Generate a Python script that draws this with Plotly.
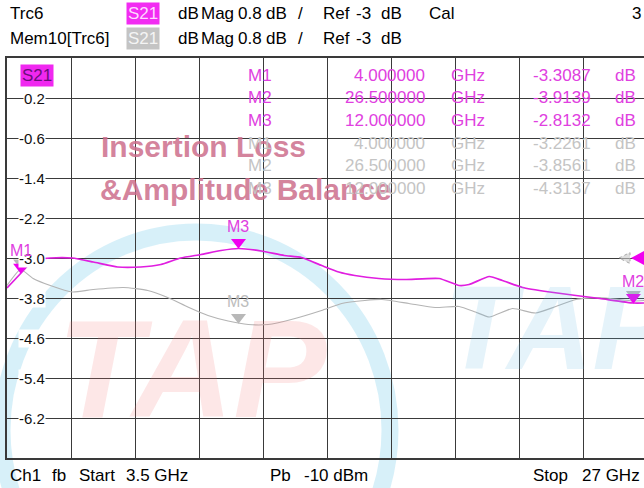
import plotly.graph_objects as go

# ---------------- data ----------------
start_ghz = 3.5
stop_ghz = 27.0
ref_db = -3.0
scale_db = 0.8
y_tick_labels = ["0.2", "-0.6", "-1.4", "-2.2", "-3.0", "-3.8", "-4.6", "-5.4", "-6.2"]

s21_freq = [3.5, 4.0, 4.46, 5.09, 5.9, 6.67, 7.56, 8.41, 9.15, 9.88, 10.62, 11.36, 12.0,
            12.84, 13.68, 14.31, 15.05, 15.68, 16.27, 17.15, 18.11, 19.37, 20.1, 20.47,
            21.21, 21.69, 22.43, 23.43, 24.39, 25.27, 26.5, 26.9]
s21_db = [-3.60, -3.31, -3.05, -3.0, -3.0, -3.08, -3.18, -3.18, -3.13, -3.0, -2.93, -2.85, -2.81,
          -2.86, -2.95, -2.99, -3.15, -3.28, -3.35, -3.41, -3.43, -3.41, -3.55, -3.53,
          -3.37, -3.45, -3.59, -3.68, -3.75, -3.81, -3.90, -3.90]

mem_freq = [3.5, 4.0, 4.46, 5.09, 5.9, 6.67, 7.78, 8.67, 9.4, 10.14, 10.88, 11.62, 12.36,
            13.09, 13.94, 15.05, 15.79, 16.64, 17.27, 18.26, 19.22, 20.1, 20.7, 21.21,
            22.06, 22.91, 23.65, 24.39, 25.27, 26.5, 26.9]
mem_db = [-3.55, -3.23, -3.41, -3.55, -3.68, -3.63, -3.59, -3.65, -3.79, -3.98, -4.15, -4.26, -4.33,
          -4.33, -4.23, -4.05, -3.91, -3.85, -3.83, -3.91, -3.99, -3.97, -4.08, -4.18,
          -4.01, -4.10, -3.97, -3.83, -3.79, -3.86, -3.85]

marker_names = ["M1", "M2", "M3"]
marker_freq = [4.0, 26.5, 12.0]
marker_freq_text = ["4.000000", "26.500000", "12.000000"]
marker_s21 = [-3.3087, -3.9139, -2.8132]
marker_mem = [-3.2261, -3.8561, -4.3137]
mem_label_shown = [False, False, True]

# ---------------- styling / geometry ----------------
W, H = 644, 488
L, R, T, B = 7, 644, 58, 458
DIV_PX = 64.0
MAG = "#e01ee0"
MAG_TXT = "#e040e0"
GRAY = "#b4b4b4"
GRAY_TXT = "#c4c4c4"
FONT = "Liberation Sans, Arial, sans-serif"
NARROW = "Liberation Sans Narrow, Arial Narrow, Liberation Sans, sans-serif"
GRID = "#3a3a3a"


def px(x):
    return (x - L) / (R - L)


def py(y):
    return (B - y) / (B - T)


x_end = start_ghz + (stop_ghz - start_ghz) * (R - L) / (10 * DIV_PX)
y_lo = ref_db - 5 * scale_db
y_hi = ref_db + 5 * scale_db
db_per_px = scale_db / 40.0

fig = go.Figure()

# memory trace
fig.add_trace(go.Scatter(x=mem_freq, y=mem_db, mode="lines",
                         line=dict(color=GRAY, width=1.2, shape="spline", smoothing=0.5),
                         hoverinfo="skip", showlegend=False))
# active trace
fig.add_trace(go.Scatter(x=s21_freq, y=s21_db, mode="lines",
                         line=dict(color=MAG, width=1.7, shape="spline", smoothing=0.5),
                         hoverinfo="skip", showlegend=False))

tri_size = 13
off = (tri_size / 2) * db_per_px
fig.add_trace(go.Scatter(x=marker_freq, y=[v + off for v in marker_mem], mode="markers",
                         marker=dict(symbol="triangle-down", size=tri_size, color="#b8b8b8",
                                     line=dict(width=0)),
                         cliponaxis=False, hoverinfo="skip", showlegend=False))
fig.add_trace(go.Scatter(x=marker_freq, y=[v + off for v in marker_s21], mode="markers",
                         marker=dict(symbol="triangle-down", size=tri_size, color="#f000f0",
                                     line=dict(width=0)),
                         cliponaxis=False, hoverinfo="skip", showlegend=False))

ann = []


def text(x, y, s, color="#000", size=17, xanchor="left", yanchor="middle", family=FONT,
         bg=None, **kw):
    d = dict(x=x, y=y, xref="paper", yref="paper", text=s, showarrow=False,
             xanchor=xanchor, yanchor=yanchor, font=dict(color=color, size=size, family=family))
    if bg:
        d["bgcolor"] = bg
    d.update(kw)
    ann.append(d)


# header
text(px(8), py(14), "Trc6")
text(px(126), py(14), "S21", color="#ffd8ff", bg="#f22cf2", borderpad=1)
text(px(8), py(39), "Mem10[Trc6]")
text(px(126), py(39), "S21", color="#f4f4f4", bg="#c4c4c4", borderpad=1)
for yy in (14, 39):
    for xx, s in [(176, "dB"), (199, "Mag"), (236, "0.8"), (264, "dB"), (296, "/"),
                  (321, "Ref"), (354, "-3"), (379, "dB")]:
        text(px(xx), py(yy), s)
text(px(427), py(14), "Cal")
text(px(643), py(14), "3", xanchor="right")

# footer
text(px(8), py(475), "Ch1")
text(px(50), py(475), "fb")
text(px(77), py(475), "Start")
text(px(124), py(475), "3.5 GHz")
text(px(268), py(475), "Pb")
text(px(302), py(475), "-10 dBm")
text(px(531), py(475), "Stop")
text(px(642), py(475), "27 GHz", xanchor="right")

# y tick labels inside plot
for i, lab in enumerate(y_tick_labels):
    yv = y_hi - scale_db * (i + 1)
    ann.append(dict(x=px(46), y=yv, xref="paper", yref="y", text=lab, showarrow=False,
                    xanchor="right", yanchor="middle", bgcolor="white", borderpad=0,
                    font=dict(color="#111", size=15, family=NARROW)))

# S21 badge inside plot
text(px(20), py(75.5), "S21", color="#6a0f7a", bg="#f028f0", size=17, borderpad=1)

# watermark text
text(px(203), py(146), "<b>Insertion Loss</b>", color="rgba(205,110,140,0.85)", size=30,
     xanchor="center")
text(px(246), py(190), "<b>&amp;Amplitude Balance</b>", color="rgba(205,110,140,0.85)", size=30,
     xanchor="center")

# marker table
row_y = [75, 97.7, 120.4, 143, 165.8, 188.5]
for i in range(3):
    for j, (vals, col) in enumerate([(marker_s21, MAG_TXT), (marker_mem, GRAY_TXT)]):
        yy = py(row_y[i + 3 * j])
        text(px(246), yy, marker_names[i], color=col)
        text(px(427), yy, marker_freq_text[i], color=col, xanchor="right")
        text(px(449), yy, "GHz", color=col)
        text(px(593), yy, f"{vals[i]:.4f}", color=col, xanchor="right")
        text(px(613), yy, "dB", color=col)

# marker labels on trace
for i in range(3):
    if mem_label_shown[i]:
        ann.append(dict(x=marker_freq[i], y=marker_mem[i], xref="x", yref="y", text=marker_names[i],
                        showarrow=False, yanchor="bottom", yshift=12,
                        font=dict(color="#bdbdbd", size=16, family=NARROW)))
for i in range(3):
    ann.append(dict(x=marker_freq[i], y=marker_s21[i], xref="x", yref="y", text=marker_names[i],
                    showarrow=False, yanchor="bottom", yshift=12,
                    font=dict(color="#e040e0", size=16, family=NARROW)))

# TAP watermark logo letters
text(px(192), py(368), "<b><i>TAP</i></b>", color="rgba(245,120,120,0.18)", size=140,
     xanchor="center", family=NARROW)
text(px(442), py(328), "<b><i>TAP</i></b>", color="rgba(110,190,230,0.18)", size=118,
     xanchor="left", family=NARROW)

shapes = []
# cyan ring
shapes.append(dict(type="circle", xref="paper", yref="paper", layer="below",
                   x0=px(2), x1=px(390), y0=py(628), y1=py(232),
                   line=dict(color="rgba(160,220,240,0.42)", width=17)))
# reference level indicators
shapes.append(dict(type="path", xref="paper", yref="y", layer="above",
                   path=f"M {px(619)},{ref_db} L {px(630)},{ref_db + 5.5 * db_per_px} "
                        f"L {px(630)},{ref_db - 5.5 * db_per_px} Z",
                   fillcolor="rgba(200,200,200,0.6)", line=dict(color="#a8a8a8", width=1, dash="dot")))
shapes.append(dict(type="path", xref="paper", yref="y", layer="above",
                   path=f"M {px(631)},{ref_db} L {px(646)},{ref_db + 8 * db_per_px} "
                        f"L {px(646)},{ref_db - 8 * db_per_px} Z",
                   fillcolor="#f000f0", line=dict(width=0)))

fig.update_layout(
    width=W, height=H, autosize=False,
    margin=dict(l=L, r=W - R, t=T, b=H - B, pad=0),
    paper_bgcolor="white", plot_bgcolor="white",
    showlegend=False,
    annotations=ann, shapes=shapes,
    xaxis=dict(range=[start_ghz, x_end], tick0=start_ghz, dtick=(stop_ghz - start_ghz) / 10,
               showgrid=True, gridcolor=GRID, gridwidth=1.4, showticklabels=False, ticks="",
               zeroline=False, showline=True, linecolor=GRID, linewidth=1.6, mirror=True,
               fixedrange=True),
    yaxis=dict(range=[y_lo, y_hi], tick0=ref_db, dtick=scale_db,
               showgrid=True, gridcolor=GRID, gridwidth=1.4, showticklabels=False, ticks="",
               zeroline=False, showline=True, linecolor=GRID, linewidth=1.6, mirror=False,
               fixedrange=True),
)

fig.write_html("out.html", config={"displayModeBar": False},
               post_script="document.body.style.margin='0px';document.body.style.padding='0px';")
